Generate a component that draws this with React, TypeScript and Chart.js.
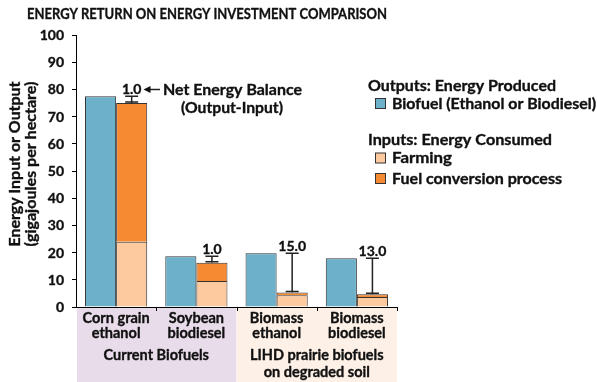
import React, { useEffect, useRef } from 'react';
import { Chart, registerables } from 'chart.js';

Chart.register(...registerables);

const W = 597;
const H = 382;
const FONT = 'Lato';

// ---------- data ----------
const categories = [
  ['Corn grain', 'ethanol'],
  ['Soybean', 'biodiesel'],
  ['Biomass', 'ethanol'],
  ['Biomass', 'biodiesel'],
];
const biofuelOutput = [77.5, 18.7, 19.8, 17.9];
const farmingInput = [24.0, 9.6, 4.3, 3.7];
const conversionInput = [51.0, 6.7, 1.0, 1.0];
const netEnergyLabels = ['1.0', '1.0', '15.0', '13.0'];
const groupLabels = [['Current Biofuels'], ['LIHD prairie biofuels', 'on degraded soil']];
const groupSpans = [[0, 1], [2, 3]];
const yMax = 100;
const yStep = 10;
const titleText = 'ENERGY RETURN ON ENERGY INVESTMENT COMPARISON';
const yTitle = ['Energy Input or Output', '(gigajoules per hectare)'];
const legendOutputsTitle = 'Outputs: Energy Produced';
const legendInputsTitle = 'Inputs: Energy Consumed';
const seriesNames = ['Biofuel (Ethanol or Biodiesel)', 'Farming', 'Fuel conversion process'];
const annotationText = ['Net Energy Balance', '(Output-Input)'];

// ---------- style ----------
const BLUE = '#6cb0ca';
const PEACH = '#fdca9f';
const ORANGE = '#f58a32';
const BAND_COLORS = ['#e9dcea', '#fdf1e7'];
const STROKE = '#333333';
const TEXT = '#111111';

// draws bold text at a given size; if target width is given, scales horizontally to fit it
function drawText(
  ctx: CanvasRenderingContext2D,
  text: string,
  x: number,
  y: number,
  size: number,
  target: number | null,
  align: CanvasTextAlign = 'left'
) {
  ctx.save();
  ctx.font = `bold ${size}px ${FONT}`;
  ctx.textAlign = align;
  ctx.textBaseline = 'alphabetic';
  ctx.fillStyle = TEXT;
  ctx.strokeStyle = TEXT;
  ctx.lineWidth = 0.35;
  ctx.lineJoin = 'round';
  ctx.translate(x, y);
  if (target) {
    const w = ctx.measureText(text).width;
    ctx.scale(Math.min(1.15, target / w), 1);
  }
  ctx.fillText(text, 0, 0);
  ctx.strokeText(text, 0, 0);
  ctx.restore();
}

const overlay = {
  id: 'overlay',
  beforeDraw(chart: any) {
    const { ctx, chartArea } = chart;
    const xs = chart.scales.x;
    ctx.save();
    ctx.fillStyle = '#ffffff';
    ctx.fillRect(0, 0, W, H);
    const half = (xs.getPixelForValue(1) - xs.getPixelForValue(0)) / 2;
    groupSpans.forEach((span, g) => {
      const x0 = g === 0 ? chartArea.left + 1 : xs.getPixelForValue(span[0]) - half;
      const x1 = xs.getPixelForValue(span[1]) + half;
      ctx.fillStyle = BAND_COLORS[g];
      ctx.fillRect(x0, chartArea.bottom + 1, x1 - x0, H - chartArea.bottom);
    });
    ctx.restore();
  },
  afterDatasetsDraw(chart: any) {
    const { ctx } = chart;
    const ys = chart.scales.y;
    const meta = chart.getDatasetMeta(2);
    ctx.save();
    ctx.strokeStyle = '#222';
    ctx.fillStyle = TEXT;
    ctx.lineWidth = 1.5;
    biofuelOutput.forEach((v, i) => {
      const x = meta.data[i].x;
      const yTop = ys.getPixelForValue(v);
      const yBot = ys.getPixelForValue(farmingInput[i] + conversionInput[i]);
      ctx.beginPath();
      ctx.moveTo(x, yTop);
      ctx.lineTo(x, yBot);
      ctx.moveTo(x - 6.5, yTop);
      ctx.lineTo(x + 6.5, yTop);
      ctx.moveTo(x - 6.5, yBot - 1);
      ctx.lineTo(x + 6.5, yBot - 1);
      ctx.stroke();
      drawText(ctx, netEnergyLabels[i], x, yTop - 2, 14, null, 'center');
    });
    // annotation arrow
    ctx.beginPath();
    ctx.moveTo(149, 89.5);
    ctx.lineTo(160, 89.5);
    ctx.stroke();
    ctx.beginPath();
    ctx.moveTo(143.5, 89.5);
    ctx.lineTo(150.5, 86);
    ctx.lineTo(150.5, 93);
    ctx.closePath();
    ctx.fill();
    drawText(ctx, annotationText[0], 163, 95, 15, 139);
    drawText(ctx, annotationText[1], 232, 113, 15, 102, 'center');
    ctx.restore();
  },
  afterDraw(chart: any) {
    const { ctx, chartArea } = chart;
    const xs = chart.scales.x;
    const ys = chart.scales.y;
    const half = (xs.getPixelForValue(1) - xs.getPixelForValue(0)) / 2;
    ctx.save();
    // x axis line with boundary ticks
    ctx.strokeStyle = '#000';
    ctx.lineWidth = 1;
    ctx.beginPath();
    ctx.moveTo(chartArea.left - 4, chartArea.bottom + 0.5);
    ctx.lineTo(chartArea.right, chartArea.bottom + 0.5);
    for (let i = 1; i <= categories.length; i++) {
      const bx = Math.round(xs.getPixelForValue(i - 1) + half) + 0.5;
      ctx.moveTo(bx, chartArea.bottom);
      ctx.lineTo(bx, chartArea.bottom + 4);
    }
    ctx.stroke();

    // y tick labels (from the scale's own ticks)
    ys.ticks.forEach((t: any) => {
      drawText(ctx, String(t.value), chartArea.left - 12, ys.getPixelForValue(t.value) + 5, 14, null, 'right');
    });

    // category labels
    categories.forEach((lines, i) => {
      const cx = xs.getPixelForValue(i);
      lines.forEach((t, k) => drawText(ctx, t, cx, 323 + k * 15, 14.5, null, 'center'));
    });
    // group labels
    groupSpans.forEach((span, g) => {
      const cx = (xs.getPixelForValue(span[0]) + xs.getPixelForValue(span[1])) / 2;
      groupLabels[g].forEach((t, k) => drawText(ctx, t, cx, 360 + k * 16.5, 14.5, null, 'center'));
    });

    // title
    drawText(ctx, titleText, 27, 19, 15.5, 360);

    // y-axis title
    ctx.save();
    ctx.translate(15, 164);
    ctx.rotate(-Math.PI / 2);
    drawText(ctx, yTitle[0], 0, 5, 15, 165, 'center');
    ctx.restore();
    ctx.save();
    ctx.translate(31, 164);
    ctx.rotate(-Math.PI / 2);
    drawText(ctx, yTitle[1], 0, 5, 15, 165, 'center');
    ctx.restore();

    // legend
    drawText(ctx, legendOutputsTitle, 368, 90.5, 15, 188);
    drawText(ctx, legendInputsTitle, 368, 144.5, 15, 184);
    const items = [
      { name: seriesNames[0], color: BLUE, y: 108.5, w: 204 },
      { name: seriesNames[1], color: PEACH, y: 163, w: 60 },
      { name: seriesNames[2], color: ORANGE, y: 183.5, w: 170 },
    ];
    items.forEach((it) => {
      ctx.fillStyle = it.color;
      ctx.fillRect(375.5, it.y - 10, 10, 10);
      ctx.strokeStyle = STROKE;
      ctx.lineWidth = 1;
      ctx.strokeRect(375.5, it.y - 10, 10, 10);
      drawText(ctx, it.name, 392, it.y, 15, it.w);
    });
    ctx.restore();
  },
};

export default function App() {
  const ref = useRef<HTMLCanvasElement | null>(null);
  useEffect(() => {
    if (!ref.current) return;
    const chart = new Chart(ref.current, {
      type: 'bar',
      data: {
        labels: categories.map((c) => c.join(' ')),
        datasets: [
          {
            label: seriesNames[0],
            data: biofuelOutput,
            backgroundColor: BLUE,
            borderColor: STROKE,
            borderWidth: 1,
            stack: 'out',
          },
          {
            label: seriesNames[1],
            data: farmingInput,
            backgroundColor: PEACH,
            borderColor: STROKE,
            borderWidth: 1,
            stack: 'in',
          },
          {
            label: seriesNames[2],
            data: conversionInput,
            backgroundColor: ORANGE,
            borderColor: STROKE,
            borderWidth: 1,
            stack: 'in',
          },
        ],
      },
      options: {
        responsive: false,
        animation: false,
        layout: { padding: { top: 35, bottom: H - 307, right: W - 397, left: 0 } },
        datasets: { bar: { categoryPercentage: 0.775, barPercentage: 1.0 } },
        plugins: { legend: { display: false }, tooltip: { enabled: false }, title: { display: false } },
        scales: {
          x: { stacked: true, display: false },
          y: {
            stacked: true,
            min: 0,
            max: yMax,
            afterFit: (s: any) => {
              s.width = 76;
            },
            ticks: {
              stepSize: yStep,
              display: false,
            },
            grid: { drawOnChartArea: false, drawTicks: true, tickLength: 4, color: '#000' },
            border: { display: true, color: '#000', width: 1 },
          },
        },
      },
      plugins: [overlay],
    } as any);
    (document as any).fonts?.ready?.then(() => chart.update());
    return () => chart.destroy();
  }, []);
  return (
    <div style={{ position: 'fixed', left: 0, top: 0, width: W, height: H, background: '#fff' }}>
      <canvas ref={ref} width={W} height={H} style={{ width: W, height: H, display: 'block' }} />
    </div>
  );
}
